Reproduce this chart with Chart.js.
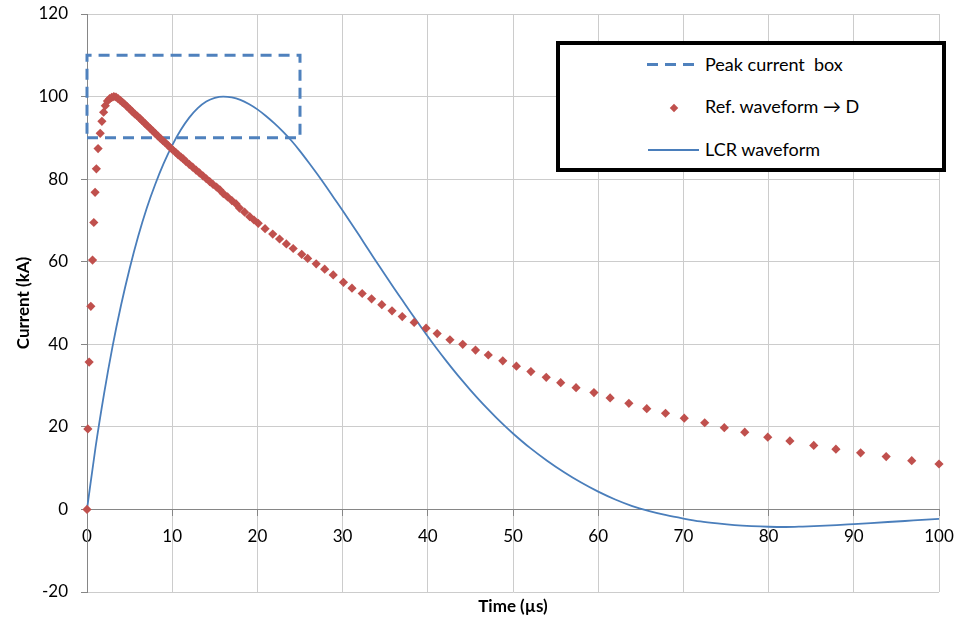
<!DOCTYPE html>
<html><head><meta charset="utf-8">
<script src="https://cdn.jsdelivr.net/npm/chart.js@4.4.1/dist/chart.umd.min.js"></script>
<style>
html,body{margin:0;padding:0;background:#fff;}
#wrap{position:relative;width:958px;height:619px;overflow:hidden;background:#fff;}
#c{position:absolute;left:0;top:0;}
.lg{position:absolute;font-family:Lato,sans-serif;font-size:18px;line-height:20px;color:#000;white-space:pre;}
</style></head><body>
<div id="wrap">
<canvas id="c" width="958" height="619"></canvas>
<div style="position:absolute;left:556px;top:41px;width:382px;height:123px;border:4px solid #000;background:#fff;"></div>
<div style="position:absolute;left:647px;top:63px;width:51px;height:3px;background:repeating-linear-gradient(to right,#4F81BD 0 11px,transparent 11px 18px);"></div>
<div class="lg" style="left:705px;top:54px;">Peak current  box</div>
<div style="position:absolute;left:671px;top:104.5px;width:6px;height:6px;background:#C0504D;transform:rotate(45deg);"></div>
<div class="lg" style="left:705px;top:96px;">Ref. waveform → D</div>
<div style="position:absolute;left:648px;top:149px;width:51px;height:2px;background:#4A7EBB;"></div>
<div class="lg" style="left:705px;top:139px;">LCR waveform</div>
</div>
<script>
// ---- data ----
const xTicks = [0,10,20,30,40,50,60,70,80,90,100];
const yTicks = [-20,0,20,40,60,80,100,120];

const boxTime    = [0, 25, 25, 0, 0];
const boxCurrent = [90, 90, 110, 110, 90];

const refTime = [0,0.1,0.25,0.45,0.65,0.8,0.95,1.1,1.3,1.55,1.75,1.95,2.15,2.4,2.65,2.9,3.15,3.4,3.65,3.9,4.15,4.4,4.7,5.0,5.3,5.6,5.9,6.2,6.5,6.8,7.1,7.4,7.7,8.0,8.3,8.6,8.9,9.2,9.5,9.8,10.1,10.4,10.7,11.0,11.3,11.6,12.0,12.4,12.8,13.2,13.6,14.0,14.4,14.8,15.2,15.6,16.0,16.5,17.0,17.5,17.9,18.5,19.1,19.6,20.1,20.9,21.8,22.6,23.4,24.2,25.2,25.9,26.9,27.9,28.9,30.1,31.1,32.3,33.4,34.6,35.8,37.0,38.4,39.8,41.1,42.6,44.1,45.6,47.1,48.8,50.4,52.1,53.9,55.6,57.4,59.5,61.4,63.6,65.7,67.9,70.1,72.5,74.8,77.2,79.9,82.5,85.3,87.9,90.8,93.8,96.8,100];
const refCurrent = [0,19.5,35.7,49.2,60.4,69.5,76.8,82.5,87.4,91.1,94.0,96.2,97.8,98.9,99.5,99.8,100.0,99.9,99.5,99.1,98.6,98.2,97.6,97.0,96.4,95.8,95.3,94.7,94.1,93.5,92.9,92.3,91.7,91.1,90.5,89.9,89.3,88.8,88.2,87.6,87.0,86.5,85.9,85.4,84.9,84.3,83.6,82.9,82.2,81.5,80.8,80.1,79.4,78.7,78.1,77.4,76.5,75.7,74.8,74.0,73.0,72.0,70.9,70.1,69.3,68.0,66.7,65.5,64.3,63.2,61.8,60.8,59.5,58.2,56.8,55.0,53.6,52.3,51.0,49.6,48.1,46.7,45.3,43.9,42.6,41.1,40.0,38.6,37.4,36.0,34.7,33.4,32.0,30.7,29.5,28.3,27.0,25.7,24.4,23.3,22.1,21.0,19.8,18.7,17.5,16.6,15.5,14.6,13.7,12.8,11.8,11.0];

const lcrTime = [0,1,2,3,4,5,6,7,8,9,10,11,12,13,14,15,16,17,18,19,20,21,22,23,24,25,26,27,28,29,30,31,32,33,34,35,36,37,38,39,40,41,42,43,44,45,46,47,48,49,50,52,54,56,58,60,62,64,66,68,70,72,74,76,78,80,82,84,86,88,90,92,94,96,98,100];
const lcrCurrent = [0,15,28,39.5,49.5,58.3,66.1,72.9,78.7,83.8,88.2,91.9,94.9,97.2,98.8,99.7,100,99.8,99.2,98.2,96.9,95.3,93.5,91.5,89.3,86.8,84.1,81.3,78.4,75.4,72.4,69.3,66.2,63.0,59.9,56.8,53.7,50.7,47.7,44.8,41.9,39.1,36.4,33.8,31.3,28.9,26.6,24.4,22.3,20.3,18.4,14.9,11.8,9.0,6.5,4.3,2.4,0.8,-0.4,-1.4,-2.2,-2.9,-3.4,-3.8,-4.05,-4.2,-4.25,-4.15,-4.0,-3.8,-3.55,-3.3,-3.05,-2.8,-2.55,-2.3];

const pts = (xs, ys) => xs.map((x, i) => ({x, y: ys[i]}));

Chart.defaults.font.family = 'Lato, sans-serif';
Chart.defaults.color = '#000';

const AXIS = '#868686', GRID = '#CCCCCC';

new Chart(document.getElementById('c'), {
  type: 'line',
  data: {
    datasets: [
      { label: 'Ref. waveform → D', data: pts(refTime, refCurrent), showLine: false,
        pointStyle: 'rectRot', pointRadius: 4.6, pointBackgroundColor: '#C0504D',
        pointBorderColor: '#C0504D', pointBorderWidth: 0, order: 1, clip: false },
      { label: 'Peak current box', data: pts(boxTime, boxCurrent), borderColor: '#4F81BD',
        borderWidth: 3, borderDash: [11, 7], pointRadius: 0, tension: 0, order: 2, clip: false },
      { label: 'LCR waveform', data: pts(lcrTime, lcrCurrent), borderColor: '#4A7EBB',
        borderWidth: 1.8, pointRadius: 0, cubicInterpolationMode: 'monotone', order: 3, clip: false }
    ]
  },
  options: {
    responsive: false, animation: false, devicePixelRatio: 1,
    layout: { padding: { top: 14, right: 19, left: 0, bottom: 0 } },
    plugins: { legend: { display: false }, tooltip: { enabled: false } },
    scales: {
      x: {
        type: 'linear', position: { y: 0 }, min: 0, max: 100,
        afterBuildTicks: s => { s.ticks = xTicks.map(v => ({ value: v })); },
        afterFit: s => { s.paddingLeft = 0; s.paddingRight = 0; s.paddingTop = 0; s.paddingBottom = 0; },
        grid: { color: c => (c.tick && c.tick.value === 0 ? AXIS : GRID), tickLength: 6, tickColor: AXIS },
        border: { color: AXIS },
        ticks: { padding: 11, font: { size: 17 }, maxRotation: 0, autoSkip: false, color: '#000' }
      },
      xTitle: {
        type: 'linear', position: 'bottom', min: 0, max: 100,
        ticks: { display: false }, grid: { display: false, drawTicks: false }, border: { display: false },
        title: { display: true, text: 'Time (µs)', font: { size: 17, weight: 'bold' }, color: '#000', padding: { top: 0, bottom: 2 } },
        afterFit: s => { s.height = 27; s.paddingLeft = 0; s.paddingRight = 0; }
      },
      y: {
        type: 'linear', position: 'left', min: -20, max: 120,
        afterBuildTicks: s => { s.ticks = yTicks.map(v => ({ value: v })); },
        grid: { color: c => (c.tick && c.tick.value === 0 ? AXIS : GRID), tickLength: 6, tickColor: AXIS },
        border: { color: AXIS },
        ticks: { padding: 13, font: { size: 17 }, color: '#000' },
        title: { display: true, text: 'Current (kA)', font: { size: 17, weight: 'bold' }, color: '#000', padding: { top: 13, bottom: 0 } },
        afterFit: s => { s.width = 87; s.paddingTop = 0; s.paddingBottom = 0; }
      }
    }
  }
});
</script>
</body></html>
